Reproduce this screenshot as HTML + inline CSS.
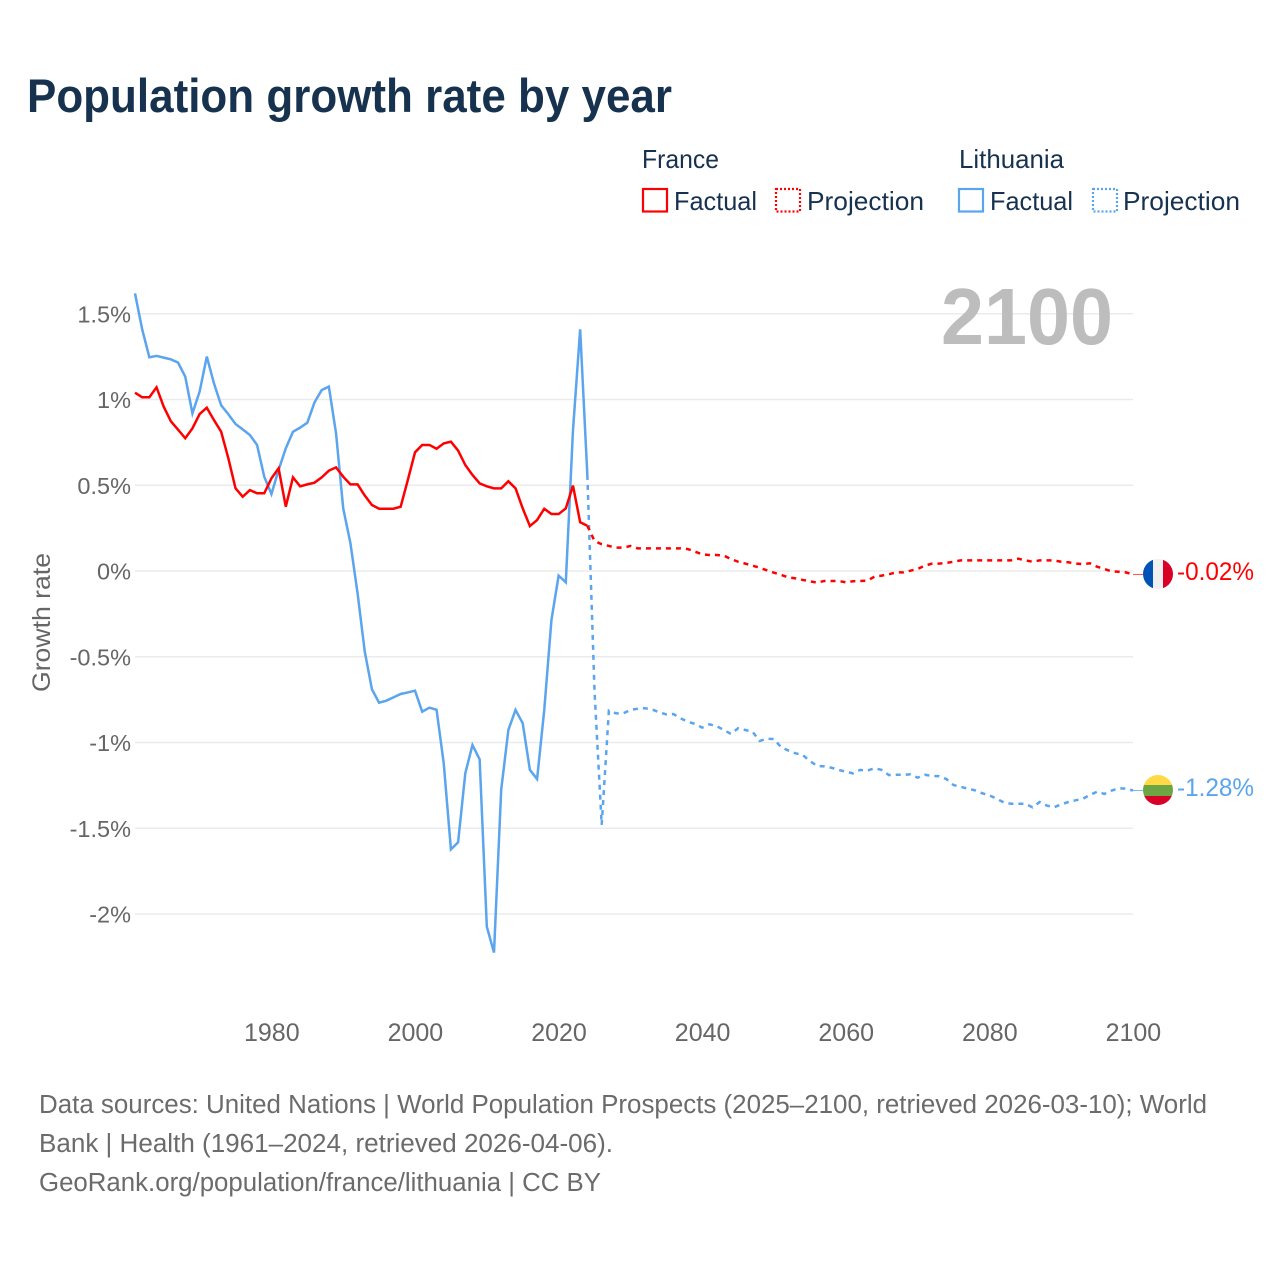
<!DOCTYPE html>
<html lang="en">
<head>
<meta charset="utf-8">
<title>Population growth rate by year</title>
<style>
html,body{margin:0;padding:0;background:#fff;}
svg{display:block;font-family:"Liberation Sans",sans-serif;}
</style>
</head>
<body>
<svg id="chart" xmlns="http://www.w3.org/2000/svg" width="1280" height="1280" viewBox="0 0 1280 1280">
  <rect width="1280" height="1280" fill="#fff"/>
  <text x="27" y="112" font-size="47" font-weight="700" fill="#17324f" textLength="645" lengthAdjust="spacingAndGlyphs">Population growth rate by year</text>

  <g font-size="26" fill="#17324f">
    <text x="642" y="168" textLength="77" lengthAdjust="spacingAndGlyphs">France</text>
    <rect x="643" y="189" width="24" height="22.5" fill="none" stroke="#ff0000" stroke-width="2.2"/>
    <text x="674" y="210" textLength="83" lengthAdjust="spacingAndGlyphs">Factual</text>
    <rect x="776" y="189" width="24" height="22.5" fill="none" stroke="#ff0000" stroke-width="2.2" stroke-dasharray="2 2"/>
    <text x="807" y="210" textLength="117" lengthAdjust="spacingAndGlyphs">Projection</text>
    <text x="959" y="168" textLength="105" lengthAdjust="spacingAndGlyphs">Lithuania</text>
    <rect x="959" y="189" width="24" height="22.5" fill="none" stroke="#5ba4ee" stroke-width="2.2"/>
    <text x="990" y="210" textLength="83" lengthAdjust="spacingAndGlyphs">Factual</text>
    <rect x="1093" y="189" width="24" height="22.5" fill="none" stroke="#5ba4ee" stroke-width="2.2" stroke-dasharray="2 2"/>
    <text x="1123" y="210" textLength="117" lengthAdjust="spacingAndGlyphs">Projection</text>
  </g>

  <text transform="translate(50,622.5) rotate(-90)" text-anchor="middle" font-size="25" fill="#666" textLength="139" lengthAdjust="spacingAndGlyphs">Growth rate</text>

  <g id="grid"></g>
  <g id="yticks"></g>
  <g id="xticks"></g>

  <text x="941" y="344" font-size="80" font-weight="700" fill="#bdbdbd" textLength="172" lengthAdjust="spacingAndGlyphs">2100</text>

  <g id="series"></g>

  <g>
    <clipPath id="clip-fr"><circle cx="1158" cy="574" r="15"/></clipPath>
    <g clip-path="url(#clip-fr)">
      <rect x="1143" y="559" width="10" height="30" fill="#0052b4"/>
      <rect x="1153" y="559" width="10" height="30" fill="#f0f0f0"/>
      <rect x="1163" y="559" width="10" height="30" fill="#d80027"/>
    </g>
  </g>
  <g>
    <clipPath id="clip-lt"><circle cx="1158" cy="790" r="15"/></clipPath>
    <g clip-path="url(#clip-lt)">
      <rect x="1143" y="775" width="30" height="10" fill="#ffda44"/>
      <rect x="1143" y="785" width="30" height="11" fill="#6da544"/>
      <rect x="1143" y="796" width="30" height="10" fill="#d80027"/>
    </g>
  </g>
  <text x="1177" y="580" font-size="25" fill="#ff0000" textLength="77" lengthAdjust="spacingAndGlyphs">-0.02%</text>
  <text x="1177" y="796" font-size="25" fill="#5ba4ee" textLength="77" lengthAdjust="spacingAndGlyphs">-1.28%</text>

  <g font-size="25.5" fill="#6b6b6b">
    <text x="39" y="1113" textLength="1168" lengthAdjust="spacingAndGlyphs">Data sources: United Nations | World Population Prospects (2025–2100, retrieved 2026-03-10); World</text>
    <text x="39" y="1152" textLength="574" lengthAdjust="spacingAndGlyphs">Bank | Health (1961–2024, retrieved 2026-04-06).</text>
    <text x="39" y="1191" textLength="562" lengthAdjust="spacingAndGlyphs">GeoRank.org/population/france/lithuania | CC BY</text>
  </g>
</svg>
<script>
const xTickYears = [1980, 2000, 2020, 2040, 2060, 2080, 2100];
const yTickValues = [1.5, 1, 0.5, 0, -0.5, -1, -1.5, -2];
const yTickLabels = ["1.5%", "1%", "0.5%", "0%", "-0.5%", "-1%", "-1.5%", "-2%"];
const factualStartYear = 1961;
const projectionStartYear = 2024;
const franceFactual = [1.04,1.013,1.013,1.071,0.958,0.873,0.824,0.774,0.832,0.915,0.952,0.88,0.812,0.657,0.482,0.433,0.472,0.453,0.453,0.54,0.599,0.375,0.546,0.494,0.505,0.515,0.546,0.585,0.604,0.55,0.505,0.505,0.44,0.385,0.363,0.363,0.363,0.375,0.531,0.692,0.735,0.735,0.713,0.744,0.754,0.702,0.618,0.56,0.511,0.494,0.482,0.482,0.523,0.482,0.365,0.262,0.297,0.363,0.332,0.332,0.365,0.498,0.284,0.264];
const lithuaniaFactual = [1.619,1.409,1.246,1.254,1.244,1.234,1.215,1.133,0.919,1.046,1.25,1.094,0.966,0.914,0.857,0.826,0.793,0.735,0.55,0.449,0.589,0.715,0.812,0.836,0.865,0.983,1.055,1.075,0.803,0.365,0.163,-0.13,-0.47,-0.69,-0.768,-0.756,-0.737,-0.717,-0.708,-0.698,-0.82,-0.797,-0.809,-1.122,-1.623,-1.582,-1.18,-1.015,-1.098,-2.074,-2.225,-1.277,-0.927,-0.81,-0.888,-1.16,-1.213,-0.81,-0.286,-0.027,-0.066,0.82,1.409,0.56];
const franceProjection = [0.264,0.175,0.156,0.146,0.136,0.136,0.146,0.132,0.132,0.132,0.132,0.132,0.132,0.132,0.128,0.113,0.097,0.093,0.093,0.09,0.07,0.054,0.043,0.031,0.019,0.004,-0.01,-0.023,-0.037,-0.043,-0.052,-0.06,-0.068,-0.058,-0.058,-0.058,-0.066,-0.06,-0.058,-0.056,-0.033,-0.027,-0.019,-0.008,-0.008,0.002,0.012,0.031,0.043,0.043,0.047,0.054,0.062,0.062,0.062,0.062,0.062,0.062,0.062,0.062,0.072,0.062,0.054,0.062,0.062,0.062,0.054,0.051,0.043,0.04,0.045,0.025,0.012,-0.002,-0.004,-0.008,-0.02];
const lithuaniaProjection = [0.56,-0.7,-1.48,-0.814,-0.83,-0.83,-0.81,-0.803,-0.8,-0.807,-0.824,-0.836,-0.834,-0.859,-0.879,-0.892,-0.913,-0.894,-0.904,-0.927,-0.95,-0.917,-0.927,-0.937,-0.991,-0.978,-0.98,-1.028,-1.047,-1.063,-1.073,-1.108,-1.137,-1.139,-1.147,-1.16,-1.17,-1.18,-1.16,-1.164,-1.15,-1.16,-1.19,-1.188,-1.188,-1.186,-1.205,-1.188,-1.195,-1.197,-1.213,-1.248,-1.259,-1.269,-1.279,-1.296,-1.308,-1.328,-1.349,-1.357,-1.357,-1.357,-1.378,-1.347,-1.368,-1.378,-1.36,-1.347,-1.337,-1.328,-1.306,-1.287,-1.3,-1.281,-1.267,-1.269,-1.28];

const NS = "http://www.w3.org/2000/svg";
function xScale(year) { return 135 + (year - 1961) * 7.18; }
function yScale(value) { return 571 - value * 171.5; }
function make(tag, attrs, parent) {
  const el = document.createElementNS(NS, tag);
  for (const k in attrs) el.setAttribute(k, attrs[k]);
  parent.appendChild(el);
  return el;
}
function pathFrom(values, startYear) {
  return values.map((v, i) => (i ? "L" : "M") + xScale(startYear + i).toFixed(2) + " " + yScale(v).toFixed(2)).join(" ");
}

const grid = document.getElementById("grid");
const yticks = document.getElementById("yticks");
const xticks = document.getElementById("xticks");
const series = document.getElementById("series");

yTickValues.forEach((v, i) => {
  const line = make("line", {x1: xScale(1961), x2: xScale(2100), y1: yScale(v), y2: yScale(v), stroke: "#ebebeb", "stroke-width": 1.5}, grid);
  
  
  const label = make("text", {x: 131, y: yScale(v) + 8.5, "text-anchor": "end", "font-size": 23.5, fill: "#666"}, yticks);
  label.textContent = yTickLabels[i];
  
  
});

xTickYears.forEach((yr) => {
  const label = make("text", {x: xScale(yr) + 0.4, y: 1041, "text-anchor": "middle", "font-size": 25, fill: "#666"}, xticks);
  label.textContent = String(yr);
  
  
});

const red = "#ff0000";
const blue = "#5ba4ee";

const lineLithuaniaFactual = make("path", {d: pathFrom(lithuaniaFactual, factualStartYear), fill: "none", stroke: blue, "stroke-width": 2.5, "stroke-linejoin": "miter"}, series);



const lineLithuaniaProjection = make("path", {d: pathFrom(lithuaniaProjection, projectionStartYear), fill: "none", stroke: blue, "stroke-width": 2.5, "stroke-dasharray": "5 5"}, series);



const lineFranceFactual = make("path", {d: pathFrom(franceFactual, factualStartYear), fill: "none", stroke: red, "stroke-width": 2.5, "stroke-linejoin": "miter"}, series);



const lineFranceProjection = make("path", {d: pathFrom(franceProjection, projectionStartYear), fill: "none", stroke: red, "stroke-width": 2.5, "stroke-dasharray": "5 5"}, series);



const lastFrance = franceProjection[franceProjection.length - 1];
const lastLithuania = lithuaniaProjection[lithuaniaProjection.length - 1];

const connectorFrance = make("line", {x1: xScale(2100), x2: 1143, y1: yScale(lastFrance), y2: yScale(lastFrance), stroke: red, "stroke-width": 1, opacity: 0.7}, series);



const connectorLithuania = make("line", {x1: xScale(2100), x2: 1143, y1: yScale(lastLithuania), y2: yScale(lastLithuania), stroke: blue, "stroke-width": 1, opacity: 0.8}, series);


</script>
</body>
</html>
